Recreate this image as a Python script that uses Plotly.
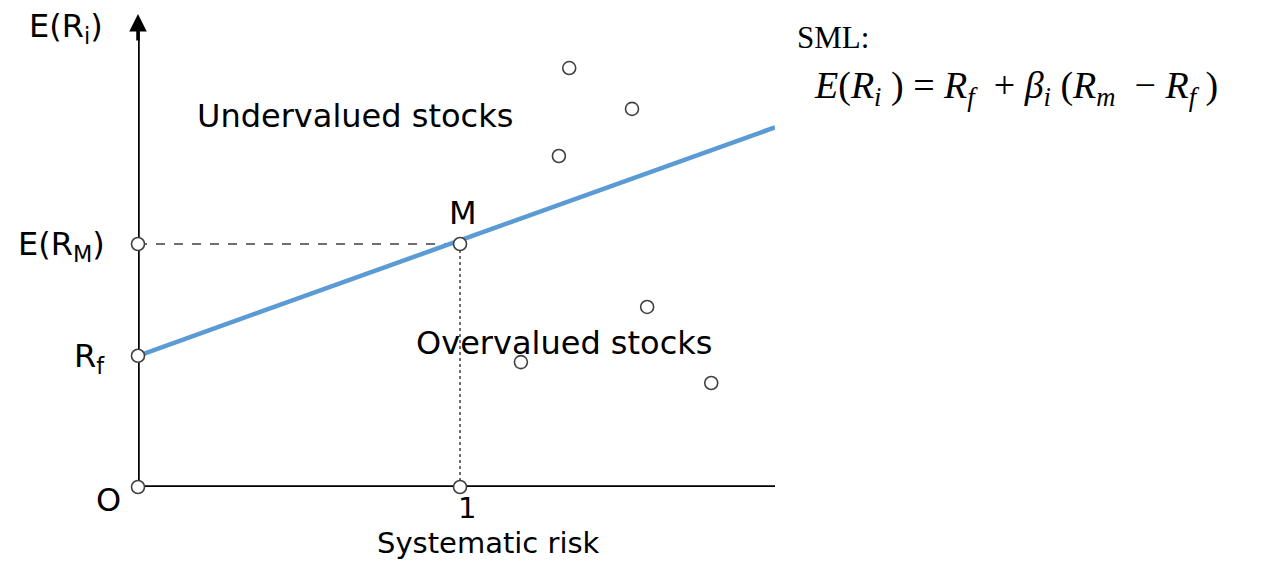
import plotly.graph_objects as go

# ---- data (beta, expected return; units: E(R_M) = 1) ----
rf = 0.54
erm = 1.0
beta_m = 1.0
x_max = 1.978
y_max = 1.93

sml_beta = [0.0, 1.978]
sml_ret = [0.54, 1.48]

stock_beta = [1.339, 1.534, 1.307, 1.581, 1.189, 1.780]
stock_ret = [1.724, 1.556, 1.362, 0.741, 0.514, 0.428]

key_beta = [0.0, 1.0, 0.0, 0.0, 1.0]
key_ret = [0.0, 0.0, 0.54, 1.0, 1.0]

# plot area in screenshot pixels: x 138..775, y 18..487
PL, PR, PT, PB = 138, 775, 18, 487


def pxp(p):
    return (p - PL) / (PR - PL)


def pyp(p):
    return (PB - p) / (PB - PT)


fig = go.Figure()

fig.add_trace(go.Scatter(x=sml_beta, y=sml_ret, mode="lines",
                         line=dict(color="#5B9BD5", width=4.5),
                         cliponaxis=False, showlegend=False, hoverinfo="skip"))

marker_style = dict(symbol="circle", size=13, color="white",
                    line=dict(color="#404040", width=1.6))
fig.add_trace(go.Scatter(x=stock_beta, y=stock_ret, mode="markers",
                         marker=marker_style, cliponaxis=False, showlegend=False))
fig.add_trace(go.Scatter(x=key_beta, y=key_ret, mode="markers",
                         marker=marker_style, cliponaxis=False, showlegend=False))

shapes = [
    dict(type="line", x0=0, y0=erm, x1=beta_m, y1=erm, xref="x", yref="y",
         line=dict(color="#404040", width=1.5, dash="dash"), layer="below"),
    dict(type="line", x0=beta_m, y0=0, x1=beta_m, y1=erm, xref="x", yref="y",
         line=dict(color="#404040", width=1.5, dash="dot"), layer="below"),
    dict(type="line", x0=0, y0=0, x1=x_max, y1=0, xref="x", yref="y",
         line=dict(color="black", width=3.5), layer="below"),
    dict(type="line", x0=0, y0=0, x1=0, y1=pyp(30) * y_max, xref="x", yref="y",
         line=dict(color="black", width=3.5), layer="below"),
]

lab = dict(size=32, color="black", family="DejaVu Sans")
lab_small = dict(size=29, color="black", family="DejaVu Sans")


def label(px, py, text, font=lab, anchor="center"):
    return dict(x=pxp(px), y=pyp(py), xref="paper", yref="paper", text=text,
                showarrow=False, font=font, xanchor=anchor, yanchor="middle",
                borderpad=0)


annotations = [
    dict(x=0, y=pyp(14) * y_max, ax=0, ay=pyp(42) * y_max, xref="x", yref="y",
         axref="x", ayref="y", showarrow=True, arrowhead=2, arrowsize=1.0,
         arrowwidth=3.5, arrowcolor="black", text=""),
    label(66, 28, "E(R<sub>i</sub>)"),
    label(61, 246, "E(R<sub>M</sub>)"),
    label(89, 358, "R<sub>f</sub>"),
    label(108, 500, "O"),
    label(467, 508, "1", lab_small),
    label(488, 543, "Systematic risk", lab_small),
    label(463, 213, "M"),
    label(355, 116, "Undervalued stocks"),
    label(564, 343, "Overvalued stocks"),
    label(796, 37, "SML:", dict(size=31, color="black", family="Liberation Serif"), "left"),
    label(813, 88,
          "<i>E</i>(<i>R<sub>i</sub></i>&nbsp;) = <i>R<sub>f</sub></i>&nbsp;&nbsp;+ <i>β<sub>i</sub></i>&nbsp;(<i>R<sub>m</sub></i>&nbsp;&nbsp;− <i>R<sub>f</sub></i>&nbsp;)",
          dict(size=38, color="black", family="Liberation Serif"), "left"),
]

# page body has an 8px margin: compensate so the plot area lands at (138,18)
fig.update_layout(
    width=1267, height=553,
    margin=dict(l=PL - 8, r=1275 - PR, t=PT - 8, b=561 - PB),
    plot_bgcolor="white", paper_bgcolor="white",
    xaxis=dict(range=[0, x_max], visible=False, fixedrange=True),
    yaxis=dict(range=[0, y_max], visible=False, fixedrange=True),
    shapes=shapes, annotations=annotations, showlegend=False,
)

fig.write_html("out.html")
